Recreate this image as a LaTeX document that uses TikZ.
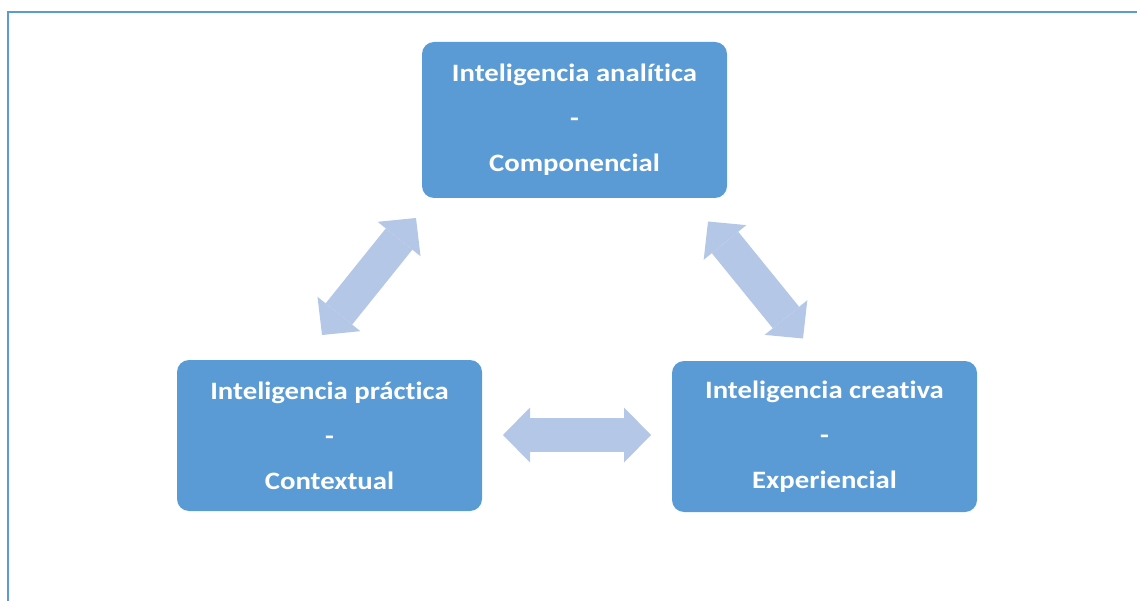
\documentclass[tikz,border=0pt]{standalone}
\usepackage{fontspec}
\setmainfont{Carlito}[FakeStretch=1.15,Ligatures=NoCommon]
\usetikzlibrary{arrows.meta}
\definecolor{boxblue}{HTML}{5B9BD5}
\definecolor{arrowblue}{HTML}{B4C7E7}
\begin{document}
\begin{tikzpicture}[x=1pt,y=-1pt,
  card/.style={fill=boxblue, rounded corners=12pt, minimum width=305pt,
    minimum height=151pt, align=center, text=white, inner sep=0pt,
    font=\bfseries\fontsize{25}{45}\selectfont},
  bigtip/.tip={Triangle[length=27pt,width=55pt,line width=0pt]},
  twoway/.style={draw=arrowblue, line width=34pt, bigtip-bigtip}]
\useasboundingbox (0,0) rectangle (1137,601);
% frame, running off the right and bottom edges
\begin{scope}
  \clip (0,0) rectangle (1137,601);
  \draw[boxblue, line width=2.5pt] (8,12) rectangle (1160,620);
\end{scope}
% the three intelligences
\node[card, minimum height=156pt] (ana) at (574.5,120)
  {Inteligencia analítica\\-\\Componencial};
\node[card] (pra) at (329.5,435.5)
  {Inteligencia práctica\\-\\Contextual};
\node[card] (cre) at (824.5,436.5)
  {Inteligencia creativa\\-\\Experiencial};
% two-way block arrows between them
\coordinate (a1) at (322,335);
\coordinate (a2) at (416,218);
\coordinate (b1) at (708,221.5);
\coordinate (b2) at (803,338.5);
\coordinate (c1) at (503,435);
\coordinate (c2) at (651,435);
\draw[twoway] (a1) -- (a2);
\draw[twoway] (b1) -- (b2);
\draw[twoway] (c1) -- (c2);
\end{tikzpicture}
\end{document}
